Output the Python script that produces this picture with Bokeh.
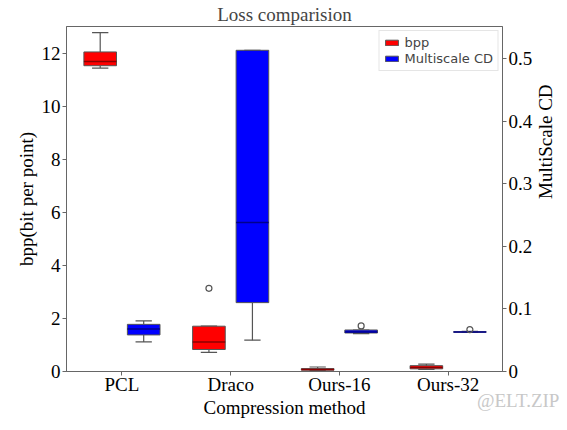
import math
from bokeh.plotting import figure
from bokeh.layouts import row
from bokeh.models import Range1d, LinearAxis, FixedTicker, Legend, LegendItem, ColumnDataSource, Spacer, Div
from bokeh.embed import file_html
from bokeh.resources import INLINE

categories = ["PCL", "Draco", "Ours-16", "Ours-32"]
positions = [1, 2, 3, 4]

# bpp (left axis)
bpp_min = [11.45, 0.72, 0.03, 0.08]
bpp_q1 = [11.54, 0.83, 0.05, 0.10]
bpp_med = [11.70, 1.11, 0.08, 0.15]
bpp_q3 = [12.06, 1.71, 0.11, 0.22]
bpp_max = [12.79, 1.71, 0.17, 0.28]
bpp_out_x = ["Draco"]
bpp_out_y = [3.14]

# Multiscale CD (right axis)
cd_min = [0.0473, 0.050, 0.0605, 0.0625]
cd_q1 = [0.0584, 0.110, 0.0615, 0.0628]
cd_med = [0.0680, 0.238, 0.0630, 0.0632]
cd_q3 = [0.0753, 0.513, 0.0663, 0.0635]
cd_max = [0.0807, 0.513, 0.0663, 0.0640]
cd_out_x = ["Ours-16", "Ours-32"]
cd_out_y = [0.0728, 0.0669]

left_ticks = [0, 2, 4, 6, 8, 10, 12]
right_ticks = [0.0, 0.1, 0.2, 0.3, 0.4, 0.5]

SERIF = "Liberation Serif"
EDGE = "#555555"
OFF = 0.2
W = 0.3

p = figure(frame_width=436, frame_height=345, output_backend="svg", toolbar_location=None,
           x_range=Range1d(0.49, 4.5), y_range=Range1d(0, 13.02),
           title="Loss comparision",
           min_border_left=0, min_border_right=0, min_border_top=21, min_border_bottom=0)
p.extra_y_ranges = {"cd": Range1d(0, 0.551)}
p.xgrid.visible = False
p.ygrid.visible = False
p.outline_line_color = "#666666"
p.background_fill_color = "white"
p.border_fill_color = "white"

p.title.text_font = SERIF
p.title.text_font_size = "19px"
p.title.text_font_style = "normal"
p.title.align = "center"
p.title.standoff = 3
p.title.offset = 0

def box_source(mins, q1s, meds, q3s, maxs, off):
    xs = [x + off for x in positions]
    return ColumnDataSource(dict(
        x=xs, lo=mins, q1=q1s, med=meds, q3=q3s, hi=maxs,
        xl=[x - W / 2 for x in xs], xr=[x + W / 2 for x in xs],
        cl=[x - W / 4 for x in xs], cr=[x + W / 4 for x in xs],
    ))

def draw(src, fill, medc, yname=None):
    kw = {} if yname is None else {"y_range_name": yname}
    p.segment(x0="x", y0="q3", x1="x", y1="hi", source=src, line_color=EDGE, line_width=1.2, **kw)
    p.segment(x0="x", y0="q1", x1="x", y1="lo", source=src, line_color=EDGE, line_width=1.2, **kw)
    p.segment(x0="cl", y0="hi", x1="cr", y1="hi", source=src, line_color=EDGE, line_width=1.2, **kw)
    p.segment(x0="cl", y0="lo", x1="cr", y1="lo", source=src, line_color=EDGE, line_width=1.2, **kw)
    r = p.vbar(x="x", width=W, top="q3", bottom="q1", source=src, fill_color=fill,
               line_color=EDGE, line_width=1, **kw)
    p.segment(x0="xl", y0="med", x1="xr", y1="med", source=src, line_color=medc, line_width=1.5, **kw)
    return r

bsrc = box_source(bpp_min, bpp_q1, bpp_med, bpp_q3, bpp_max, -OFF)
csrc = box_source(cd_min, cd_q1, cd_med, cd_q3, cd_max, OFF)
r_bpp = draw(bsrc, "#ff0000", "#8b0000")
r_cd = draw(csrc, "#0000ff", "#00008b", "cd")

bo_x = [positions[categories.index(c)] - OFF for c in bpp_out_x]
co_x = [positions[categories.index(c)] + OFF for c in cd_out_x]
p.scatter(bo_x, bpp_out_y, marker="circle", size=6, fill_color=None, line_color=EDGE, line_width=1.2)
p.scatter(co_x, cd_out_y, marker="circle", size=6, fill_color=None, line_color=EDGE, line_width=1.2,
          y_range_name="cd")

def style_axis(ax):
    ax.axis_label_text_font = SERIF
    ax.axis_label_text_font_size = "19px"
    ax.axis_label_text_font_style = "normal"
    ax.axis_label_text_color = "black"
    ax.major_label_text_font = SERIF
    ax.major_label_text_font_size = "19px"
    ax.major_label_text_font_style = "normal"
    ax.major_label_text_color = "black"
    ax.axis_line_color = "#666666"
    ax.major_tick_line_color = "#666666"
    ax.major_tick_out = 4
    ax.major_tick_in = 0
    ax.minor_tick_line_color = None
    ax.major_label_standoff = 2
    ax.axis_label_standoff = 2

xa = p.xaxis[0]
xa.ticker = FixedTicker(ticks=positions)
xa.major_label_overrides = {pos: c for pos, c in zip(positions, categories)}
xa.axis_label = "Compression method"
style_axis(xa)
xa.major_label_standoff = -2
xa.axis_label_standoff = -1

ya = p.yaxis[0]
ya.ticker = FixedTicker(ticks=left_ticks)
ya.axis_label = "bpp(bit per point)"
style_axis(ya)

ra = LinearAxis(y_range_name="cd", axis_label="MultiScale CD", ticker=FixedTicker(ticks=right_ticks))
style_axis(ra)
ra.axis_label_orientation = math.pi / 2
ra.axis_label_standoff = 10
p.add_layout(ra, "right")

legend = Legend(items=[LegendItem(label="bpp", renderers=[r_bpp]),
                       LegendItem(label="Multiscale CD", renderers=[r_cd])],
                location="top_right")
legend.label_text_font = "DejaVu Sans"
legend.label_text_font_size = "13px"
legend.glyph_width = 16
legend.glyph_height = 7
legend.label_height = 14
legend.label_standoff = 5
legend.spacing = 1
legend.padding = 4
legend.margin = 4
legend.border_line_color = "#cccccc"
legend.background_fill_alpha = 0.8
p.add_layout(legend)

# watermark: a small text block laid over the bottom-right corner of the figure
wm = Div(text='<span style="font-family:\'Liberation Serif\';font-size:19px;color:#c8c8c8;'
              'white-space:nowrap;line-height:22px">@ELT.ZIP</span>',
         width=92, height=24, margin=(390, 0, 0, -92),
         styles={"position": "relative", "z-index": "10"})

layout = row(Spacer(width=12), p, wm)
open("out.html", "w").write(file_html(layout, INLINE))
